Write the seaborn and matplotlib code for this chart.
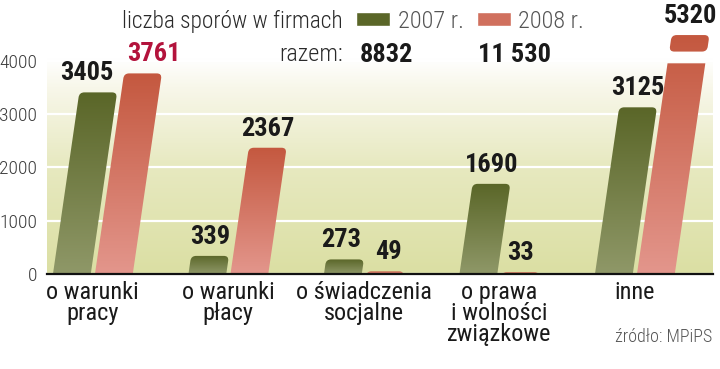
#!/usr/bin/env python3
"""Liczba sporów w firmach 2007 vs 2008 - skośne słupki z gradientem."""

import numpy as np
import pandas as pd
import matplotlib
matplotlib.use("Agg")
import matplotlib.pyplot as plt
import seaborn as sns
from matplotlib.colors import LinearSegmentedColormap
from matplotlib.patches import FancyBboxPatch, Patch
from matplotlib.transforms import Affine2D

CATEGORIES = ["o warunki\npracy", "o warunki\npłacy", "o świadczenia\nsocjalne",
              "o prawa\ni wolności\nzwiązkowe", "inne"]
YEARS = ["2007 r.", "2008 r."]
VALUES_2007 = [3405, 339, 273, 1690, 3125]
VALUES_2008 = [3761, 2367, 49, 33, 5320]
Y_TICKS = [0, 1000, 2000, 3000, 4000]
LEGEND_TITLE = "liczba sporów w firmach"
TOTAL_LABEL = "razem:"
SOURCE = "źródło: MPiPS"

# ---- style ----
GREEN_TOP, GREEN_BOT = "#5a6628", "#8f9868"
RED_TOP, RED_BOT = "#c4583f", "#e3968c"
DARK = "#1a1a1a"
LABEL_COLORS = {YEARS[0]: [DARK] * 5,
                YEARS[1]: ["#b3133c", DARK, DARK, DARK, DARK]}
SLANT = 0.145          # px of horizontal shift per px of height
Y_MAX = 4500
BREAK_LO, BREAK_HI = 3950, 4170
FONT = ["Roboto Condensed", "DejaVu Sans"]


def fmt_total(v):
    return f"{v:,}".replace(",", " ") if v >= 10000 else str(v)


def main():
    df = pd.DataFrame({
        "kategoria": CATEGORIES * 2,
        "rok": [YEARS[0]] * len(CATEGORIES) + [YEARS[1]] * len(CATEGORIES),
        "liczba": VALUES_2007 + VALUES_2008,
    })

    sns.set_theme(style="white")
    plt.rcParams["font.family"] = FONT

    fig = plt.figure(figsize=(7.2, 3.69), dpi=100)
    ax = fig.add_axes([0.065, 0.2575, 0.925, 0.6504])
    sns.barplot(data=df, x="kategoria", y="liczba", hue="rok",
                palette=[GREEN_TOP, RED_TOP], width=0.62, gap=0.1,
                legend=False, ax=ax)
    xlim = (-0.34, 4.575)
    ax.set_xlim(*xlim)
    ax.set_ylim(0, Y_MAX)

    # background gradient
    bg = LinearSegmentedColormap.from_list(
        "bg", [(0, "#dbdfa3"), (0.45, "#e7e9c0"), (0.78, "#f8f7ea"), (0.9, "#ffffff"),
               (1, "#ffffff")])
    ax.imshow(np.linspace(0, 1, 256).reshape(-1, 1), cmap=bg, origin="lower",
              extent=(*xlim, 0, Y_MAX), aspect="auto", zorder=0)

    # skew in data units derived from axis scales
    (x0p, y0p), (x1p, y1p) = ax.transData.transform([(0, 0), (1, 1)])
    sx, sy = x1p - x0p, y1p - y0p
    k = SLANT * sy / sx
    skew = Affine2D(np.array([[1, k, 0], [0, 1, 0], [0, 0, 1]])) + ax.transData
    aspect = sx / sy
    r = 5 / sx

    cmaps = {YEARS[0]: LinearSegmentedColormap.from_list("g", [GREEN_BOT, GREEN_TOP]),
             YEARS[1]: LinearSegmentedColormap.from_list("r", [RED_BOT, RED_TOP])}
    grad = np.linspace(0, 1, 256).reshape(-1, 1)

    def draw_piece(x, w, y0, y1, year, grad_top, rounded=True):
        style = f"round,pad=0,rounding_size={r}" if rounded else "square,pad=0"
        lo = y0 - r * aspect if y0 == 0 else y0
        patch = FancyBboxPatch((x, lo), w, y1 - lo, boxstyle=style,
                               mutation_aspect=aspect, transform=skew,
                               facecolor="none", edgecolor="none")
        ax.add_patch(patch)
        im = ax.imshow(grad, cmap=cmaps[year], origin="lower", vmin=0, vmax=1,
                       extent=(x - 0.05, x + w + k * grad_top + 0.05, 0, grad_top),
                       aspect="auto", zorder=2)
        im.set_clip_path(patch)

    labels = {}
    for container, year in zip(ax.containers, YEARS):
        for i, bar in enumerate(container):
            x, w, h = bar.get_x(), bar.get_width(), bar.get_height()
            bar.set_visible(False)
            if h > Y_MAX:
                top = Y_MAX - 20
                draw_piece(x, w, 0, BREAK_LO, year, top, rounded=False)
                draw_piece(x, w, BREAK_HI, top, year, top)
            else:
                top = h
                draw_piece(x, w, 0, h, year, top)
            labels[(year, i)] = ax.annotate(
                str(int(h)), xy=(x + w / 2 + k * top, top),
                xytext=(0, 5), textcoords="offset points",
                ha="center", va="bottom", fontsize=19,
                fontweight="bold", color=LABEL_COLORS[year][i],
                annotation_clip=False)

    ax.set_xlim(*xlim)
    ax.set_ylim(0, Y_MAX)
    ax.set_yticks(Y_TICKS)
    ax.set_yticklabels([str(t) for t in Y_TICKS])
    ax.grid(axis="y", color="white", lw=1.6)
    ax.set_axisbelow(True)
    ax.set_xlabel(""); ax.set_ylabel("")
    for s in ["top", "right", "left"]:
        ax.spines[s].set_visible(False)
    ax.spines["bottom"].set_color("#111111")
    ax.spines["bottom"].set_linewidth(1.6)
    ax.spines["bottom"].set_zorder(5)
    ax.tick_params(axis="y", length=0, pad=7, labelsize=14, labelcolor="#3c3c3c")
    ax.tick_params(axis="x", length=0, pad=5, labelsize=17.5, labelcolor=DARK)
    for t in ax.get_yticklabels():
        t.set_fontweight("light")
    for t in ax.get_xticklabels():
        t.set_linespacing(0.9)

    # push apart value labels of a group that would touch
    fig.canvas.draw()
    renderer = fig.canvas.get_renderer()
    for i in range(len(CATEGORIES)):
        a, b = labels[(YEARS[0], i)], labels[(YEARS[1], i)]
        ba, bb = a.get_window_extent(renderer), b.get_window_extent(renderer)
        overlap_y = ba.y1 > bb.y0 and bb.y1 > ba.y0
        need = ba.x1 - bb.x0 + 14
        if overlap_y and need > 0:
            shift = need / 2 * 72 / fig.dpi
            a.xyann = (-shift, 5)
            b.xyann = (shift, 5)

    # legend row
    fig.text(0.476, 0.943, LEGEND_TITLE, ha="right", va="center",
             fontsize=16.8, fontweight="light", color="#2a2a2a")
    handles = [Patch(facecolor=GREEN_TOP, label=YEARS[0]),
               Patch(facecolor="#d0705e", label=YEARS[1])]
    leg = fig.legend(handles=handles, ncol=2, frameon=False, loc="center left",
                     bbox_to_anchor=(0.495, 0.943), fontsize=17.5, handlelength=1.4,
                     handleheight=0.55, handletextpad=0.3, columnspacing=0.55,
                     borderpad=0, borderaxespad=0, labelcolor="#555555")
    for t in leg.get_texts():
        t.set_fontweight("light")

    # totals
    fig.text(0.476, 0.851, TOTAL_LABEL, ha="right", va="center",
             fontsize=17.5, fontweight="light", color="#2a2a2a")
    totals = df.groupby("rok", sort=False)["liczba"].sum()
    for xpos, year in zip([0.5, 0.664], YEARS):
        fig.text(xpos, 0.851, fmt_total(int(totals[year])), ha="left",
                 va="center", fontsize=19, fontweight="bold", color=DARK)

    fig.text(0.989, 0.087, SOURCE, ha="right", va="center", fontsize=13,
             fontweight="light", color="#555555")

    fig.savefig("out.png", dpi=100)
    plt.close(fig)


if __name__ == "__main__":
    main()
